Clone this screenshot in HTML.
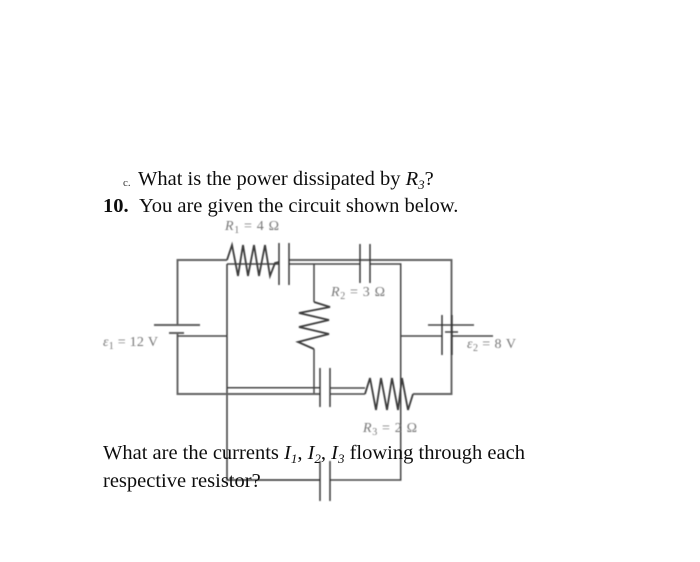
<!DOCTYPE html>
<html><head><meta charset="utf-8"><style>
html,body{margin:0;padding:0;background:#fff}
svg{display:block}
.w{fill:none;stroke:#444;stroke-width:1.5}
.r{fill:none;stroke:#3a3a3a;stroke-width:1.8}
.g{fill:none;stroke:#606060;stroke-width:1.9}
.k{fill:none;stroke:#2e2e2e;stroke-width:1.4}
text{font-family:"Liberation Serif",serif}
.t{font-size:20.5px;fill:#111}
.l{font-size:14px;fill:#777}
.s{font-size:10px}
</style></head><body>
<svg width="700" height="562" viewBox="0 0 700 562" xmlns="http://www.w3.org/2000/svg">
<defs><filter id="b" x="-5%" y="-5%" width="110%" height="110%"><feGaussianBlur stdDeviation="0.45"/></filter>
<filter id="c" x="-5%" y="-5%" width="110%" height="110%"><feGaussianBlur stdDeviation="0.25"/></filter></defs>
<g filter="url(#b)">
<path class="g" d="M177.5 325V260H227"/>
<path class="g" d="M289 260H451.5V394H413"/>
<path class="w" d="M227 264H279"/>
<path class="w" d="M289 264H360M370 264H400.7V480H330"/>
<path class="k" d="M227 264V480H320"/>
<path class="r" d="M227 260L232 245L238 276L243 245L248 276L254 245L259 276L265 245L270 276L275 263L279 262"/>
<path class="k" d="M279 243V285M289 243V285"/>
<path class="k" d="M360 244V283M370 244V283"/>
<path class="w" d="M314 264V302"/>
<path class="r" d="M314 302L330 307L299 313L329 320L299 327L329 334L298 342L314 349"/>
<path class="w" d="M314 349V394"/>
<path class="g" d="M154 325H200M169 333H184"/>
<path class="g" d="M177.5 333V394H320"/>
<path class="w" d="M177.5 336H227"/>
<path class="w" d="M227 387.7H320"/>
<path class="k" d="M320 368V407M330 368V407"/>
<path class="w" d="M330 388H365M330 394H365"/>
<path class="r" d="M365 394L370 378L376 410L381 378L387 410L392 378L398 410L402 378L408 410L413 394"/>
<path class="k" d="M320 461V501M330 461V501"/>
<path class="w" d="M401 336H442M452 336H493"/>
<path class="w" d="M428 325H474M445 332H458"/>
<path class="k" d="M442 315V355M452 315V355"/>
<text class="l" x="225" y="230" textLength="54"><tspan font-style="italic">R</tspan><tspan class="s" dy="3">1</tspan><tspan dy="-3"> = 4 Ω</tspan></text>
<text class="l" x="331" y="296" textLength="54"><tspan font-style="italic">R</tspan><tspan class="s" dy="3">2</tspan><tspan dy="-3"> = 3 Ω</tspan></text>
<text class="l" x="363" y="432" textLength="54"><tspan font-style="italic">R</tspan><tspan class="s" dy="3">3</tspan><tspan dy="-3"> = 2 Ω</tspan></text>
<text class="l" x="103" y="346" textLength="55"><tspan font-style="italic">ε</tspan><tspan class="s" dy="3">1</tspan><tspan dy="-3"> = 12 V</tspan></text>
<text class="l" x="467" y="348" textLength="49"><tspan font-style="italic">ε</tspan><tspan class="s" dy="3">2</tspan><tspan dy="-3"> = 8 V</tspan></text>
</g>
<g filter="url(#c)">
<text x="123" y="186" font-size="11" fill="#333">c.</text>
<text class="t" x="138" y="185">What is the power dissipated by <tspan font-style="italic">R</tspan><tspan font-style="italic" font-size="13" dy="4">3</tspan><tspan dy="-4">?</tspan></text>
<text class="t" x="103" y="212" font-weight="bold">10.</text>
<text class="t" x="139" y="212">You are given the circuit shown below.</text>
<text class="t" x="103" y="459">What are the currents <tspan font-style="italic">I</tspan><tspan font-style="italic" font-size="13" dy="4">1</tspan><tspan dy="-4">, </tspan><tspan font-style="italic">I</tspan><tspan font-style="italic" font-size="13" dy="4">2</tspan><tspan dy="-4">, </tspan><tspan font-style="italic">I</tspan><tspan font-style="italic" font-size="13" dy="4">3</tspan><tspan dy="-4"> flowing through each</tspan></text>
<text class="t" x="103" y="487">respective resistor?</text>
</g>
</svg>
</body></html>
